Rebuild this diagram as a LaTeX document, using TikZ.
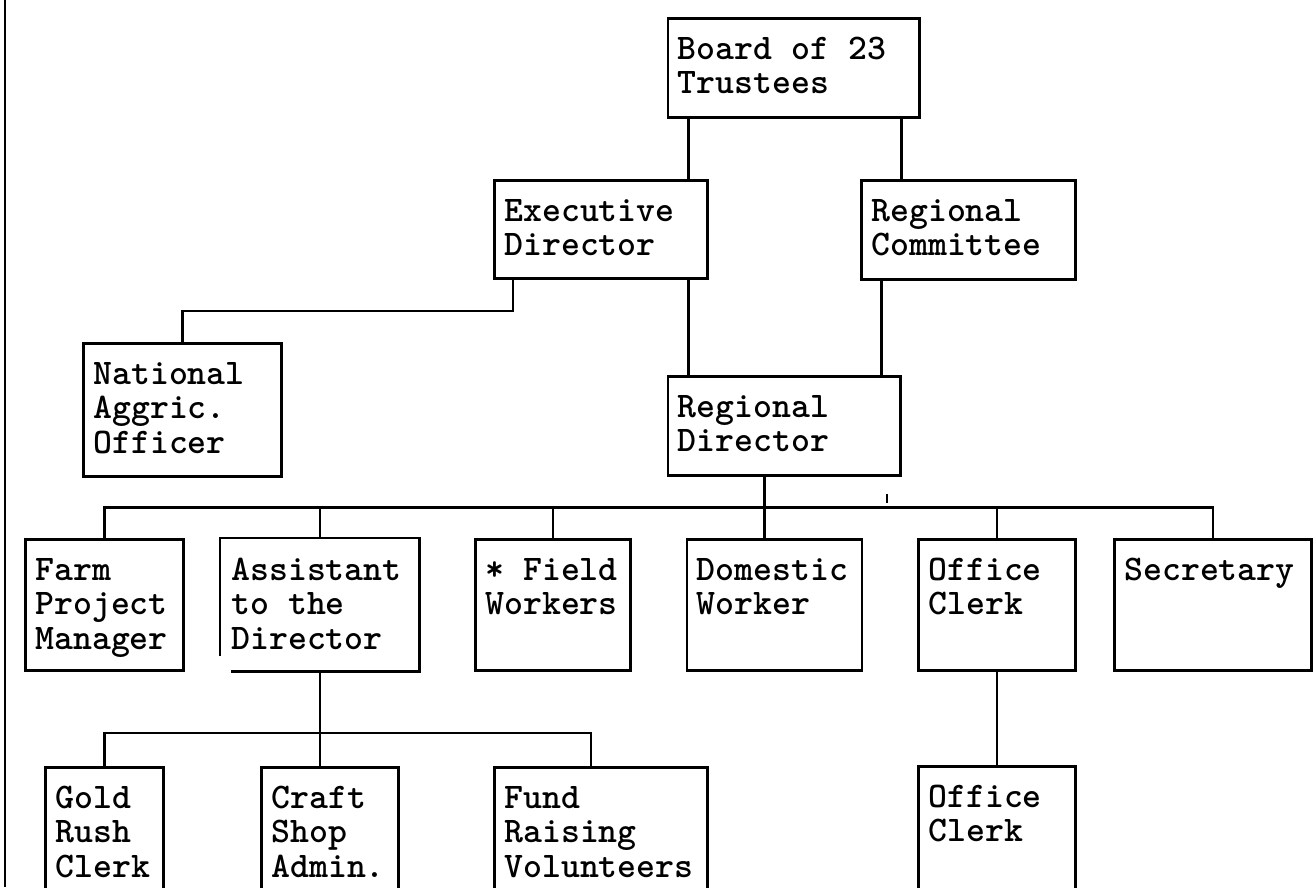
\documentclass[tikz,border=0pt]{standalone}
\usepackage{fontspec}
\usetikzlibrary{calc}
\newlength\pxl
\setlength\pxl{0.02cm}
% box text: width, height (in px), lines
\newcommand{\post}[3]{\parbox[t][#2\pxl][t]{#1\pxl}{\leftskip=10\pxl\rule{0pt}{41\pxl}#3}}

\begin{document}
\begin{tikzpicture}[x=0.02cm, y=-0.02cm,
  box/.style={draw, line width=1.6pt, inner sep=0pt, anchor=north west,
              font=\ttfamily\bfseries\fontsize{20.5pt}{19.6pt}\selectfont},
  link/.style={line width=1.6pt}
]
  \path[fill=white, use as bounding box] (0,0) rectangle (1316,887);
  \clip (0,0) rectangle (1316,887);
  \draw[line width=1.2pt] (5,0) -- (5,887);

  \node[box] (board)    at (666.5,17) {\post{251.5}{99}{Board of 23\\Trustees}};
  \node[box] (exec)     at (493,179)  {\post{213}{98}{Executive\\Director}};
  \node[box] (regcom)   at (860,179)  {\post{214}{99}{Regional\\Committee}};
  \node[box] (national) at (82,342)   {\post{198}{133}{National\\Aggric.\\Officer}};
  \node[box] (regdir)   at (666.5,375) {\post{232.5}{99}{Regional\\Director}};

  \node[box] (farm)      at (24,538)    {\post{158}{131}{Farm\\Project\\Manager}};
  \node[box, draw=none] (asst) at (220,538) {\post{197}{131}{Assistant\\to the\\Director}};
  \node[box] (field)     at (474,538)   {\post{155}{131}{* Field\\Workers}};
  \node[box] (domestic)  at (685.5,538) {\post{175}{131}{Domestic\\Worker}};
  \node[box] (office)    at (917,538)   {\post{157}{131}{Office\\Clerk}};
  \node[box] (secretary) at (1113,538)  {\post{197}{131}{Secretary}};

  \node[box] (gold)    at (44,766)  {\post{118}{150}{Gold\\Rush\\Clerk}};
  \node[box] (craft)   at (260,766) {\post{137}{150}{Craft\\Shop\\Admin.}};
  \node[box] (fund)    at (493,766) {\post{213}{150}{Fund\\Raising\\Volunteers}};
  \node[box] (office2) at (917,765) {\post{157}{150}{Office\\Clerk}};

  % broken corner of the assistant box
  \draw[link] ([yshift=0.32cm]asst.south west) -- (asst.north west) -- (asst.north east)
    -- (asst.south east) -- ([xshift=0.22cm]asst.south west);

  % upper levels
  \draw[link] ([xshift=-0.4cm]exec.north east) coordinate (b1) -- (b1 |- board.south);
  \draw[link] ([xshift=-0.38cm]board.south east) coordinate (b2) -- (b2 |- regcom.north);
  \draw[link] (b1 |- exec.south) -- (b1 |- regdir.north);
  \draw[link] ([xshift=-0.4cm]regdir.north east) coordinate (r1) -- (r1 |- regcom.south);
  \draw[link] ([xshift=0.4cm]exec.south west) |- ($(national.north)+(0,-31)$) -- (national.north);

  % regional staff
  \coordinate (bus) at ($(regdir.south)!0.5!(domestic.north)$);
  \draw[link] ([xshift=-0.4cm]regdir.south) coordinate (rd) -- (rd |- domestic.north);
  \draw[link] (farm.north) |- (secretary.north |- bus) -- (secretary.north);
  \foreach \n in {asst,field,office}
    \draw[link] (\n.north) -- (\n.north |- bus);
  \draw[line width=1pt] (887,494) -- (887,503);

  % under the assistant
  \coordinate (bus2) at ($(gold.north)+(0,-33)$);
  \coordinate (f1) at ([xshift=-0.2cm]fund.north);
  \draw[link] (asst.south) -- (asst.south |- craft.north);
  \draw[link] (gold.north) |- (f1 |- bus2) -- (f1);
  \draw[link] (office.south) -- (office2.north);
\end{tikzpicture}
\end{document}
